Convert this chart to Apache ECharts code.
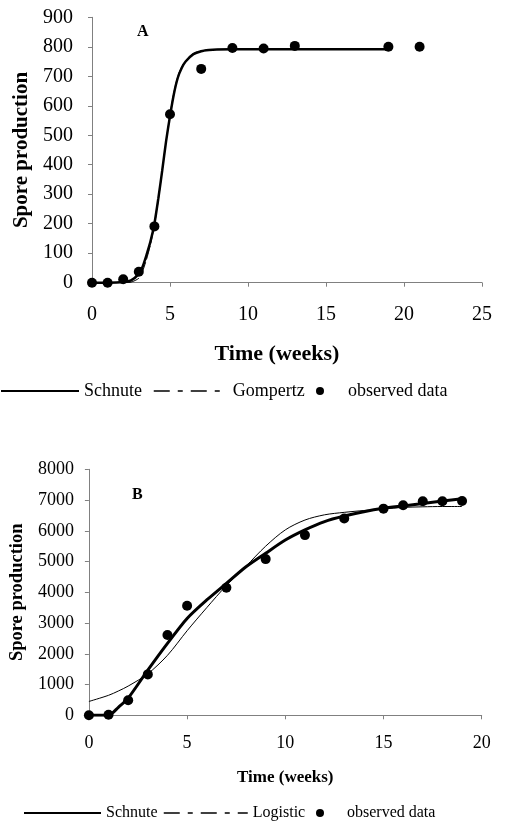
<!DOCTYPE html>
<html>
<head>
<meta charset="utf-8">
<script src="https://cdn.jsdelivr.net/npm/echarts@6/dist/echarts.min.js"></script>
<style>
html,body{margin:0;padding:0;background:#fff;}
#chart{width:514px;height:832px;}
</style>
</head>
<body>
<div id="chart"></div>
<script>
// ---- Panel A data ----
var aObsX = [0, 1, 2, 3, 4, 5, 7, 9, 11, 13, 19, 21];
var aObsY = [0, 0, 12, 37, 191, 571, 725, 796, 794, 803, 800, 800];
var aCurveX = [0, 1, 2, 2.5, 3, 3.25, 3.5, 3.75, 4, 4.25, 4.5, 4.75, 5, 5.25, 5.5, 5.75, 6, 6.5, 7, 7.5, 8, 9, 10, 12, 15, 19];
var aSchnute = [0, 0, 2, 8, 30, 55, 95, 140, 200, 285, 380, 480, 565, 640, 695, 728, 750, 775, 785, 789, 791, 792, 792, 792, 792, 792];
var aGompertz = [0, 0, 0, 2, 15, 40, 80, 130, 195, 280, 380, 480, 570, 645, 700, 732, 752, 777, 786, 790, 791, 792, 792, 792, 792, 792];
var aXTicks = [0, 5, 10, 15, 20, 25];
var aYTicks = [0, 100, 200, 300, 400, 500, 600, 700, 800, 900];

// ---- Panel B data ----
var bObsX = [0, 1, 2, 3, 4, 5, 7, 9, 11, 13, 15, 16, 17, 18, 19];
var bObsY = [0, 20, 490, 1330, 2610, 3560, 4150, 5080, 5860, 6400, 6720, 6830, 6960, 6960, 6970];
var bCurveX = [0, 1, 1.5, 2, 3, 4, 5, 6, 7, 8, 9, 10, 11, 12, 13, 14, 15, 16, 17, 18, 19];
var bSchnute = [0, 0, 260, 560, 1470, 2340, 3150, 3750, 4290, 4830, 5270, 5700, 6030, 6300, 6480, 6620, 6730, 6810, 6890, 6970, 7040];
var bLogistic = [450, 650, 790, 950, 1350, 1950, 2750, 3500, 4220, 4850, 5500, 6030, 6350, 6520, 6600, 6660, 6710, 6760, 6780, 6790, 6790];
var bXTicks = [0, 5, 10, 15, 20];
var bYTicks = [0, 1000, 2000, 3000, 4000, 5000, 6000, 7000, 8000];

function pairs(xs, ys) { return xs.map(function (x, i) { return [x, ys[i]]; }); }

var FONT = 'Liberation Serif';
var AX = '#808080';

function axisCommon(fs, margin) {
  return {
    axisLine: { show: true, lineStyle: { color: AX, width: 1 } },
    axisTick: { show: true, inside: false, length: 4, lineStyle: { color: AX } },
    splitLine: { show: false },
    axisLabel: { fontFamily: FONT, fontSize: fs, color: '#000', margin: margin,
      formatter: function (v) { return String(v); } }
  };
}

function lineLegend(name, left, top, w, fs, dashed) {
  var l = { data: [name], left: left, top: top, itemWidth: w, itemHeight: 10, padding: 0,
    itemStyle: { opacity: 0 },
    textStyle: { fontFamily: FONT, fontSize: fs, color: '#000' } };
  if (dashed) l.lineStyle = { type: [16, 8, 5, 8], width: 1.5, color: '#000' };
  return l;
}
function dotLegend(name, left, top, fs, pad) {
  return { data: [name], left: left, top: top, itemWidth: 8, itemHeight: 8, padding: 0,
    icon: 'circle',
    itemStyle: { color: '#000', opacity: 1 },
    textStyle: { fontFamily: FONT, fontSize: fs, color: '#000', padding: [0, 0, 0, pad] } };
}

var chart = echarts.init(document.getElementById('chart'), null, { renderer: 'canvas' });

var option = {
  backgroundColor: '#fff',
  animation: false,
  grid: [
    { left: 92, right: 32, top: 17.3, height: 265.4 },
    { left: 88, right: 32.3, top: 469.3, height: 246 }
  ],
  xAxis: [
    Object.assign(axisCommon(20, 22), {
      gridIndex: 0, type: 'value', min: aXTicks[0], max: aXTicks[aXTicks.length - 1], interval: 5,
      name: 'Time (weeks)', nameLocation: 'middle', nameGap: 61,
      nameTextStyle: { fontFamily: FONT, fontSize: 22, fontWeight: 'bold', color: '#000', padding: [0, 20, 0, 0] }
    }),
    Object.assign(axisCommon(18, 19), {
      gridIndex: 1, type: 'value', min: bXTicks[0], max: bXTicks[bXTicks.length - 1], interval: 5,
      name: 'Time (weeks)', nameLocation: 'middle', nameGap: 54,
      nameTextStyle: { fontFamily: FONT, fontSize: 17, fontWeight: 'bold', color: '#000' }
    })
  ],
  yAxis: [
    Object.assign(axisCommon(20, 19), {
      gridIndex: 0, type: 'value', min: aYTicks[0], max: aYTicks[aYTicks.length - 1], interval: 100,
      name: 'Spore production', nameLocation: 'middle', nameGap: 58,
      nameTextStyle: { fontFamily: FONT, fontSize: 21, fontWeight: 'bold', color: '#000' }
    }),
    Object.assign(axisCommon(18, 15), {
      gridIndex: 1, type: 'value', min: bYTicks[0], max: bYTicks[bYTicks.length - 1], interval: 1000,
      name: 'Spore production', nameLocation: 'middle', nameGap: 60,
      nameTextStyle: { fontFamily: FONT, fontSize: 18.5, fontWeight: 'bold', color: '#000' }
    })
  ],
  legend: [
    lineLegend('Schnute', 0, 382, 78, 18, false),
    lineLegend('Gompertz', 153, 382, 74, 18, true),
    dotLegend('observed data', 316, 382, 18, 19),
    lineLegend('Schnute ', 23, 805, 77, 16, false),
    lineLegend('Logistic', 163, 805, 84, 16, true),
    dotLegend('observed data ', 316, 805, 16, 18)
  ],
  graphic: [
    { type: 'text', left: 137, top: 24, style: { text: 'A', font: 'bold 16px "Liberation Serif"', fill: '#000' } },
    { type: 'text', left: 132, top: 487, style: { text: 'B', font: 'bold 16px "Liberation Serif"', fill: '#000' } }
  ],
  series: [
    { name: 'Gompertz', type: 'line', xAxisIndex: 0, yAxisIndex: 0, data: pairs(aCurveX, aGompertz),
      symbol: 'none', smooth: 0.25, itemStyle: { color: '#000' }, lineStyle: { color: '#000', width: 1, type: [14, 3] }, z: 2 },
    { name: 'Schnute', type: 'line', xAxisIndex: 0, yAxisIndex: 0, data: pairs(aCurveX, aSchnute),
      symbol: 'none', smooth: 0.25, itemStyle: { color: '#000' }, lineStyle: { color: '#000', width: 2.5 }, z: 3 },
    { name: 'observed data', type: 'scatter', xAxisIndex: 0, yAxisIndex: 0, data: pairs(aObsX, aObsY),
      symbol: 'circle', symbolSize: 10, itemStyle: { color: '#000', opacity: 1 }, z: 4 },
    { name: 'Logistic', type: 'line', xAxisIndex: 1, yAxisIndex: 1, data: pairs(bCurveX, bLogistic),
      symbol: 'none', smooth: 0.3, itemStyle: { color: '#000' }, lineStyle: { color: '#000', width: 1 }, z: 2 },
    { name: 'Schnute ', type: 'line', xAxisIndex: 1, yAxisIndex: 1, data: pairs(bCurveX, bSchnute),
      symbol: 'none', smooth: 0.25, itemStyle: { color: '#000' }, lineStyle: { color: '#000', width: 3 }, z: 3 },
    { name: 'observed data ', type: 'scatter', xAxisIndex: 1, yAxisIndex: 1, data: pairs(bObsX, bObsY),
      symbol: 'circle', symbolSize: 10, itemStyle: { color: '#000', opacity: 1 }, z: 4 }
  ]
};
chart.setOption(option);
</script>
</body>
</html>
